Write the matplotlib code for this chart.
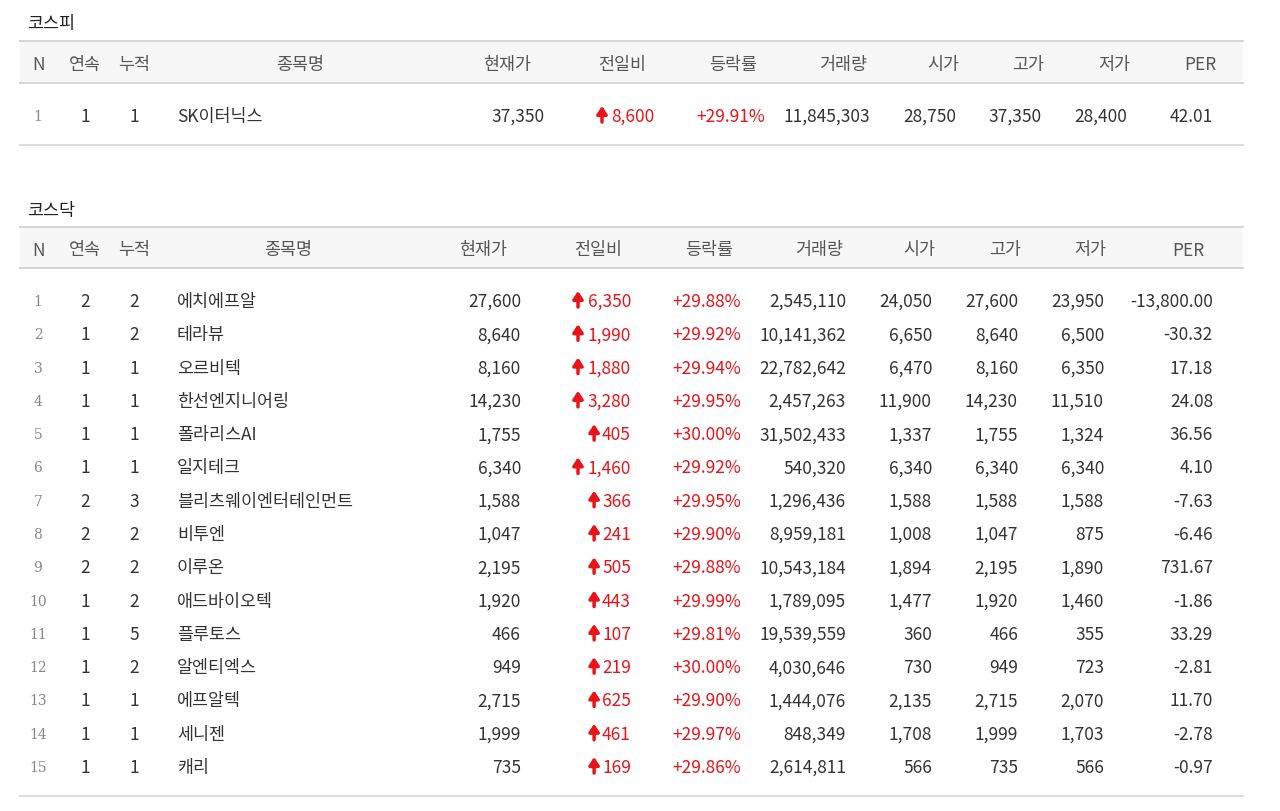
import matplotlib
matplotlib.use("Agg")
import matplotlib.pyplot as plt

plt.rcParams['font.family'] = ['Noto Sans CJK KR', 'DejaVu Sans']

headers = ["N", "연속", "누적", "종목명", "현재가", "전일비", "등락률", "거래량", "시가", "고가", "저가", "PER"]

kospi_streak = [1]
kospi_cum = [1]
kospi_names = ["SK이터닉스"]
kospi_price = ["37,350"]
kospi_change = ["8,600"]
kospi_rate = ["+29.91%"]
kospi_volume = ["11,845,303"]
kospi_open = ["28,750"]
kospi_high = ["37,350"]
kospi_low = ["28,400"]
kospi_per = ["42.01"]

kosdaq_streak = [2, 1, 1, 1, 1, 1, 2, 2, 2, 1, 1, 1, 1, 1, 1]
kosdaq_cum = [2, 2, 1, 1, 1, 1, 3, 2, 2, 2, 5, 2, 1, 1, 1]
kosdaq_names = ["에치에프알", "테라뷰", "오르비텍", "한선엔지니어링", "폴라리스AI", "일지테크",
                "블리츠웨이엔터테인먼트", "비투엔", "이루온", "애드바이오텍", "플루토스",
                "알엔티엑스", "에프알텍", "세니젠", "캐리"]
kosdaq_price = ["27,600", "8,640", "8,160", "14,230", "1,755", "6,340", "1,588", "1,047", "2,195",
                "1,920", "466", "949", "2,715", "1,999", "735"]
kosdaq_change = ["6,350", "1,990", "1,880", "3,280", "405", "1,460", "366", "241", "505", "443",
                 "107", "219", "625", "461", "169"]
kosdaq_rate = ["+29.88%", "+29.92%", "+29.94%", "+29.95%", "+30.00%", "+29.92%", "+29.95%",
               "+29.90%", "+29.88%", "+29.99%", "+29.81%", "+30.00%", "+29.90%", "+29.97%", "+29.86%"]
kosdaq_volume = ["2,545,110", "10,141,362", "22,782,642", "2,457,263", "31,502,433", "540,320",
                 "1,296,436", "8,959,181", "10,543,184", "1,789,095", "19,539,559", "4,030,646",
                 "1,444,076", "848,349", "2,614,811"]
kosdaq_open = ["24,050", "6,650", "6,470", "11,900", "1,337", "6,340", "1,588", "1,008", "1,894",
               "1,477", "360", "730", "2,135", "1,708", "566"]
kosdaq_high = ["27,600", "8,640", "8,160", "14,230", "1,755", "6,340", "1,588", "1,047", "2,195",
               "1,920", "466", "949", "2,715", "1,999", "735"]
kosdaq_low = ["23,950", "6,500", "6,350", "11,510", "1,324", "6,340", "1,588", "875", "1,890",
              "1,460", "355", "723", "2,070", "1,703", "566"]
kosdaq_per = ["-13,800.00", "-30.32", "17.18", "24.08", "36.56", "4.10", "-7.63", "-6.46", "731.67",
              "-1.86", "33.29", "-2.81", "11.70", "-2.78", "-0.97"]

fig = plt.figure(figsize=(12.8, 8.12), dpi=100)
ax = fig.add_axes([0, 0, 1, 1])
ax.set_xlim(0, 1280)
ax.set_ylim(812, 0)
ax.axis('off')

TXT = '#333333'
HDR = '#555555'
RED = '#e8141a'
FS = 12.5
DY = 2

def table(title, title_y, top, hdr_h, row_y0, row_dy, bottom, hcx, rx,
          streak, cum, names, price, change, rate, vol, op, hi, lo, per):
    ax.text(27, title_y + DY, title, fontsize=12.5, color='#222222', va='center', ha='left')
    ax.fill_between([20, 1243], top, top + hdr_h, color='#f7f7f7', lw=0)
    for y, c in [(top, '#d6d6d6'), (top + hdr_h, '#d6d6d6'), (bottom, '#dddddd')]:
        ax.plot([20, 1243], [y, y], color=c, lw=1.5)
    hy = top + hdr_h / 2 + DY
    for h, x in zip(headers, hcx):
        ax.text(x, hy, h, fontsize=FS, color=HDR, ha='center', va='center')
    for i in range(len(names)):
        y = row_y0 + i * row_dy + DY
        ax.text(hcx[0], y, str(i + 1), fontsize=10, color='#888888', ha='center', va='center',
                family=['DejaVu Serif'])
        ax.text(hcx[1], y, str(streak[i]), fontsize=FS, color=TXT, ha='center', va='center')
        ax.text(hcx[2], y, str(cum[i]), fontsize=FS, color=TXT, ha='center', va='center')
        ax.text(177, y, names[i], fontsize=FS, color=TXT, ha='left', va='center')
        ax.text(rx[0], y, price[i], fontsize=FS, color=TXT, ha='right', va='center')
        ax.text(rx[1], y, change[i], fontsize=FS, color=RED, ha='right', va='center')
        w = 9.3 * len(change[i]) - 2.5 * change[i].count(',')
        ax.annotate('', xy=(rx[1] - w - 9, y - 10), xytext=(rx[1] - w - 9, y + 6),
                    arrowprops=dict(arrowstyle='-|>,head_length=0.45,head_width=0.3',
                                    color=RED, lw=2.5, shrinkA=0, shrinkB=0))
        ax.text(rx[2], y, rate[i], fontsize=FS, color=RED, ha='right', va='center')
        ax.text(rx[3], y, vol[i], fontsize=FS, color=TXT, ha='right', va='center')
        ax.text(rx[4], y, op[i], fontsize=FS, color=TXT, ha='right', va='center')
        ax.text(rx[5], y, hi[i], fontsize=FS, color=TXT, ha='right', va='center')
        ax.text(rx[6], y, lo[i], fontsize=FS, color=TXT, ha='right', va='center')
        ax.text(rx[7], y, per[i], fontsize=FS, color=TXT, ha='right', va='center')

table("코스피", 22, 42, 42, 115, 33.3, 146,
      [38, 85, 134, 300, 507, 622, 733, 843, 943, 1028, 1114, 1200],
      [545, 655, 765, 870, 956, 1042, 1127, 1213],
      kospi_streak, kospi_cum, kospi_names, kospi_price, kospi_change, kospi_rate,
      kospi_volume, kospi_open, kospi_high, kospi_low, kospi_per)

table("코스닥", 209, 228, 41, 300, 33.29, 797,
      [38, 85, 134, 288, 483, 598, 709, 819, 919, 1005, 1090, 1188],
      [521, 631, 741, 846, 932, 1018, 1104, 1213],
      kosdaq_streak, kosdaq_cum, kosdaq_names, kosdaq_price, kosdaq_change, kosdaq_rate,
      kosdaq_volume, kosdaq_open, kosdaq_high, kosdaq_low, kosdaq_per)

fig.savefig("out.png", dpi=100)
